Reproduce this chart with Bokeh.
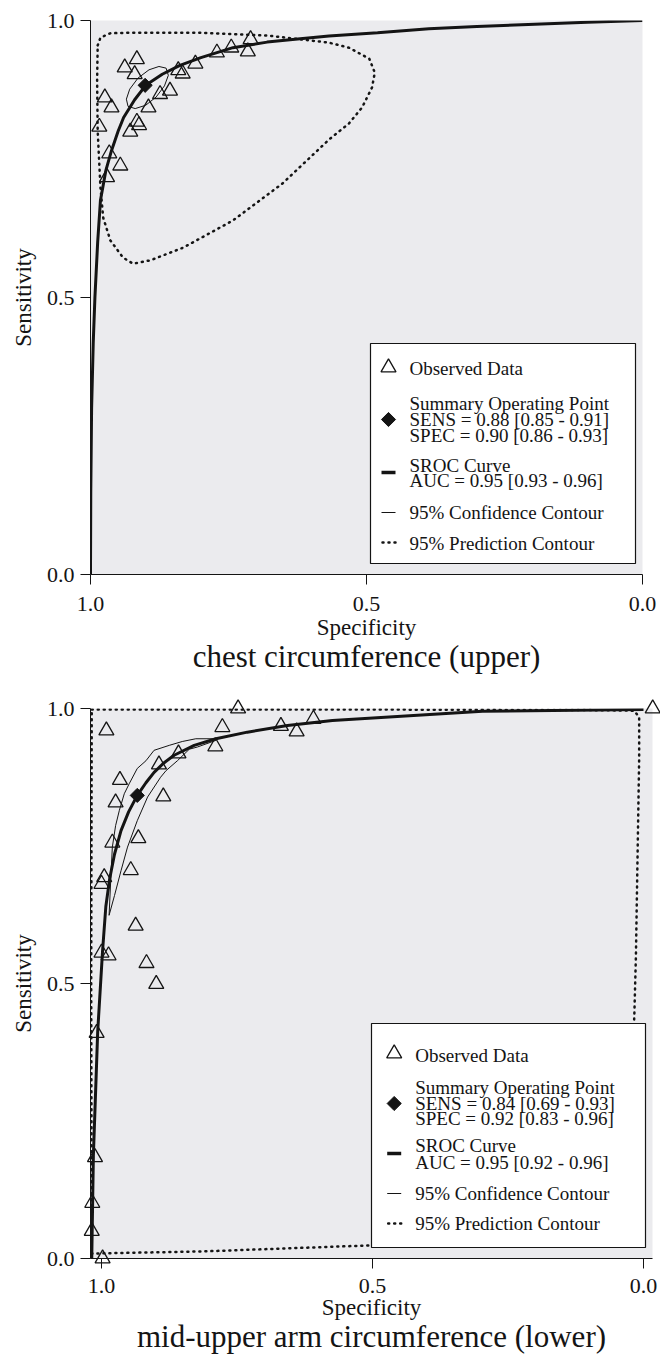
from bokeh.plotting import figure
from bokeh.models import Range1d, FixedTicker, PrintfTickFormatter, Title
from bokeh.layouts import column
from bokeh.embed import file_html
from bokeh.resources import INLINE
from bokeh.core.properties import value

FONT = "Liberation Serif"
INK = "#141414"
PANEL_BG = "#EBEBEE"

tick_values = [0.0, 0.5, 1.0]
x_axis_label = "Specificity"
y_axis_label = "Sensitivity"

# ---------------- chest circumference (upper) ----------------
chest_title = "chest circumference (upper)"
chest_obs_spec = [0.710, 0.715, 0.745, 0.771, 0.810, 0.841, 0.833, 0.856, 0.874, 0.895, 0.916,
                  0.938, 0.920, 0.974, 0.962, 0.984, 0.916, 0.912, 0.928, 0.966, 0.946, 0.970]
chest_obs_sens = [0.966, 0.944, 0.951, 0.942, 0.922, 0.910, 0.904, 0.873, 0.867, 0.843, 0.930,
                  0.915, 0.903, 0.861, 0.843, 0.808, 0.817, 0.811, 0.799, 0.760, 0.738, 0.717]
chest_sum_spec = [0.901]
chest_sum_sens = [0.883]
chest_sroc_spec = [1.0, 0.9995, 0.998, 0.995, 0.992, 0.987, 0.982, 0.972, 0.962, 0.95, 0.94, 0.92,
                   0.90, 0.87, 0.838, 0.80, 0.742, 0.68, 0.62, 0.568, 0.48, 0.387, 0.30, 0.207, 0.10, 0.0]
chest_sroc_sens = [0.0, 0.15, 0.30, 0.42, 0.50, 0.60, 0.675, 0.73, 0.765, 0.80, 0.825, 0.857,
                   0.883, 0.903, 0.919, 0.933, 0.951, 0.961, 0.967, 0.972, 0.978, 0.985, 0.989, 0.993, 0.997, 1.0]
chest_conf_spec = [0.863, 0.859, 0.866, 0.881, 0.900, 0.919, 0.932, 0.935, 0.929, 0.914, 0.894, 0.876, 0.863]
chest_conf_sens = [0.914, 0.901, 0.882, 0.862, 0.847, 0.841, 0.845, 0.858, 0.876, 0.896, 0.911, 0.917, 0.914]
chest_pred_spec = [0.987, 0.982, 0.964, 0.923, 0.802, 0.681, 0.568, 0.532, 0.495, 0.485, 0.490, 0.508,
                   0.532, 0.568, 0.652, 0.742, 0.832, 0.892, 0.923, 0.941, 0.964, 0.977, 0.982, 0.987,
                   0.988, 0.987]
chest_pred_sens = [0.955, 0.969, 0.977, 0.978, 0.978, 0.973, 0.960, 0.951, 0.931, 0.906, 0.879, 0.843,
                   0.814, 0.785, 0.706, 0.639, 0.590, 0.567, 0.561, 0.572, 0.603, 0.644, 0.699, 0.801,
                   0.892, 0.955]
chest_legend = ["Observed Data", "Summary Operating Point", "SENS = 0.88 [0.85 - 0.91]",
                "SPEC = 0.90 [0.86 - 0.93]", "SROC Curve", "AUC = 0.95 [0.93 - 0.96]",
                "95% Confidence Contour", "95% Prediction Contour"]

# ---------------- mid-upper arm circumference (lower) ----------------
muac_title = "mid-upper arm circumference (lower)"
muac_obs_spec = [0.748, 0.991, 0.777, 0.790, 0.669, 0.640, 0.609, 0.858, 0.894, 0.966, 0.974, 0.886,
                 0.980, 0.932, 0.946, 0.995, 1.000, 0.937, 1.000, 0.987, 0.917, 0.899, 1.009, 1.012,
                 1.017, 1.018, 0.998, -0.017]
muac_obs_sens = [1.000, 0.960, 0.966, 0.931, 0.968, 0.958, 0.981, 0.918, 0.898, 0.870, 0.829, 0.840,
                 0.756, 0.764, 0.706, 0.693, 0.681, 0.605, 0.556, 0.551, 0.537, 0.499, 0.410, 0.184,
                 0.101, 0.050, 0.000, 1.000]
muac_sum_spec = [0.934]
muac_sum_sens = [0.842]
muac_sroc_spec = [1.018, 1.015, 1.007, 0.998, 0.992, 0.985, 0.976, 0.964, 0.950, 0.934, 0.918, 0.903,
                  0.885, 0.866, 0.829, 0.789, 0.731, 0.657, 0.574, 0.297, 0.0]
muac_sroc_sens = [0.0, 0.187, 0.413, 0.560, 0.640, 0.690, 0.735, 0.778, 0.812, 0.842, 0.865, 0.884,
                  0.901, 0.915, 0.933, 0.945, 0.957, 0.969, 0.978, 0.995, 0.998]
muac_conf_spec = [0.986, 0.983, 0.980, 0.974, 0.967, 0.958, 0.949, 0.934, 0.918, 0.903, 0.875, 0.851,
                  0.826, 0.789, 0.789, 0.823, 0.838, 0.860, 0.881, 0.891, 0.915, 0.934, 0.952, 0.964,
                  0.976, 0.986]
muac_conf_sens = [0.624, 0.687, 0.748, 0.787, 0.815, 0.845, 0.863, 0.891, 0.905, 0.924, 0.933, 0.940,
                  0.945, 0.945, 0.942, 0.930, 0.926, 0.905, 0.887, 0.875, 0.839, 0.796, 0.748, 0.705,
                  0.660, 0.624]
muac_pred_spec = [1.018, 0.80, 0.45, 0.08, 0.017, 0.008, 0.008, 0.011, 0.014, 0.017, 0.024, 0.035,
                  0.06, 0.12, 0.26, 0.50, 0.81, 1.018, 1.019, 1.018]
muac_pred_sens = [0.998, 0.998, 0.998, 0.997, 0.996, 0.984, 0.910, 0.730, 0.550, 0.440, 0.290, 0.140,
                  0.070, 0.045, 0.033, 0.024, 0.013, 0.009, 0.500, 0.998]
muac_legend = ["Observed Data", "Summary Operating Point", "SENS = 0.84 [0.69 - 0.93]",
               "SPEC = 0.92 [0.83 - 0.96]", "SROC Curve", "AUC = 0.95 [0.92 - 0.96]",
               "95% Confidence Contour", "95% Prediction Contour"]


def build(title, obs, summ, sroc, conf, pred, legend_text, geo, leg):
    x0, x1 = geo["xr"]
    p = figure(frame_width=geo["fw"], frame_height=geo["fh"],
               x_range=Range1d(x0, x1), y_range=Range1d(0, 1),
               output_backend="svg", toolbar_location=None,
               min_border_left=geo["bl"], min_border_right=geo["br"],
               min_border_top=geo["bt"], min_border_bottom=geo["bb"])
    p.background_fill_color = PANEL_BG
    p.border_fill_color = "white"
    p.outline_line_color = None
    p.grid.visible = False

    for ax in (p.xaxis, p.yaxis):
        ax.ticker = FixedTicker(ticks=tick_values)
        ax.formatter = PrintfTickFormatter(format="%.1f")
        ax.major_tick_out = 10
        ax.major_tick_in = 0
        ax.minor_tick_out = 0
        ax.minor_tick_in = 0
        ax.axis_line_color = INK
        ax.major_tick_line_color = INK
        ax.major_label_text_font = FONT
        ax.major_label_text_font_size = "22px"
        ax.major_label_text_color = INK
        ax.axis_label_text_font = FONT
        ax.axis_label_text_font_size = "23px"
        ax.axis_label_text_font_style = "normal"
        ax.axis_label_text_color = INK
    p.xaxis.axis_label = x_axis_label
    p.yaxis.axis_label = y_axis_label
    p.xaxis.major_label_standoff = geo["xls"]
    p.yaxis.major_label_standoff = 6
    p.xaxis.axis_label_standoff = geo["xas"]
    p.yaxis.axis_label_standoff = 8

    t = Title(text=title, align="center", text_font=FONT, text_font_size="31px",
              text_font_style="normal", text_color=INK, standoff=geo["ts"])
    p.add_layout(t, "below")

    def dx(px):
        return x0 + (px - geo["left"]) / geo["fw"] * (x1 - x0)

    def dy(py):
        return 1 - (py - geo["top"]) / geo["fh"]

    # data
    p.line(pred[0], pred[1], line_color=INK, line_width=2.5, line_dash="1 5", line_cap="round")
    p.line(conf[0], conf[1], line_color=INK, line_width=1.0)
    p.line(sroc[0], sroc[1], line_color=INK, line_width=3.0)

    # legend box (glyph level, above contours)
    L, T, R, B = leg["box"]
    p.quad(left=[dx(L)], right=[dx(R)], top=[dy(T)], bottom=[dy(B)],
           fill_color="white", line_color=INK, line_width=1.2)
    mx = leg["mx"]
    rows = leg["rows"]
    p.scatter([dx(mx)], [dy(leg["tri"])], marker="triangle", size=15,
              fill_color=None, line_color=INK, line_width=1.3)
    p.scatter([dx(mx)], [dy(leg["dia"])], marker="square", angle=0.7854, size=10,
              fill_color=INK, line_color=INK)
    for yy, w, dash in ((leg["sroc"], 3.5, "solid"), (leg["conf"], 1.2, "solid")):
        p.segment([dx(mx - 7)], [dy(yy)], [dx(mx + 7)], [dy(yy)],
                  line_color=INK, line_width=w, line_dash=dash)
    p.segment([dx(mx - 6)], [dy(leg["pred"])], [dx(mx + 7)], [dy(leg["pred"])],
              line_color=INK, line_width=2.5, line_dash="1 5", line_cap="round")
    p.text(x=[dx(leg["tx"])] * len(legend_text), y=[dy(r) for r in rows], text=legend_text,
           text_font=value(FONT), text_font_size="19px", text_baseline="middle",
           text_align="left", text_color=INK)

    # points (not clipped at the frame edge)
    r1 = p.scatter(obs[0], obs[1], marker="triangle", size=15, fill_color=None,
                   line_color=INK, line_width=1.3)
    r1.level = "annotation"
    r2 = p.scatter(summ[0], summ[1], marker="square", angle=0.7854, size=10,
                   fill_color=INK, line_color=INK)
    r2.level = "annotation"
    return p


# page coordinates (the page has no margin)
top_geo = dict(xr=(1.0, 0.0), left=90, top=20, fw=552, fh=554, bl=90, br=18, bt=20, bb=106,
               xls=12, xas=1, ts=-12)
top_leg = dict(box=(370, 343, 635, 563), mx=388, tx=409, tri=367, dia=419, sroc=472, conf=512, pred=542,
               rows=[368, 403, 419, 435, 465, 480, 512, 543])
bot_geo = dict(xr=(1.0203, -0.0166), left=88, top=708, fw=562, fh=550, bl=88, br=10, bt=28, bb=98,
               xls=10, xas=-1, ts=-11)
bot_leg = dict(box=(369, 1023, 643, 1247), mx=391.7, tx=412.7, tri=1053, dia=1103, sroc=1153, conf=1193,
               pred=1223, rows=[1055, 1087, 1103, 1118, 1145, 1162, 1193, 1223])

p1 = build(chest_title, (chest_obs_spec, chest_obs_sens), (chest_sum_spec, chest_sum_sens),
           (chest_sroc_spec, chest_sroc_sens), (chest_conf_spec, chest_conf_sens),
           (chest_pred_spec, chest_pred_sens), chest_legend, top_geo, top_leg)
p2 = build(muac_title, (muac_obs_spec, muac_obs_sens), (muac_sum_spec, muac_sum_sens),
           (muac_sroc_spec, muac_sroc_sens), (muac_conf_spec, muac_conf_sens),
           (muac_pred_spec, muac_pred_sens), muac_legend, bot_geo, bot_leg)

page = column(p1, p2, spacing=0)
open("out.html", "w").write(file_html(page, INLINE))
